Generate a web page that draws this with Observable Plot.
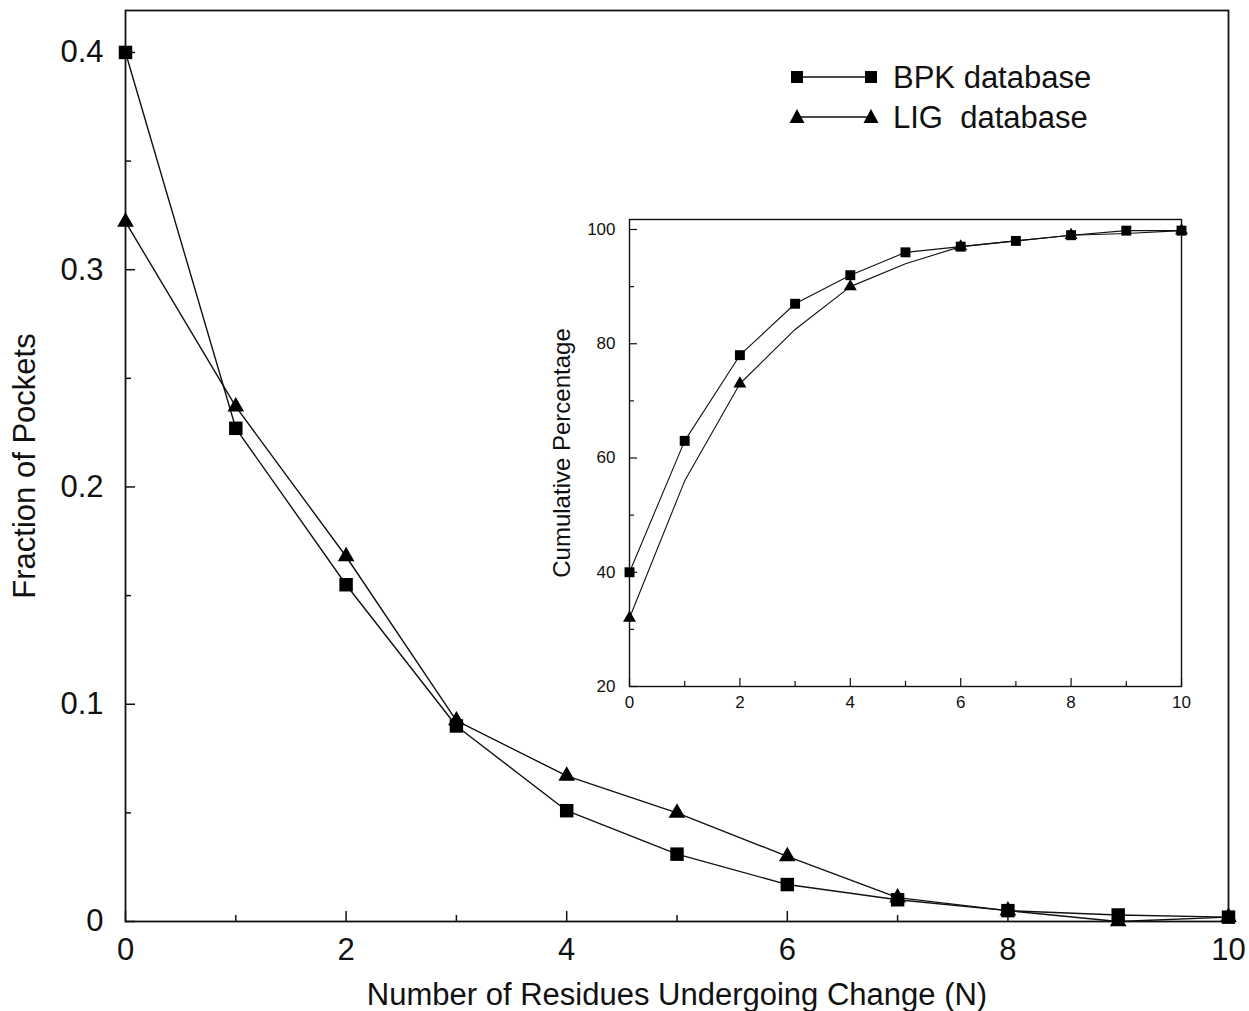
<!DOCTYPE html>
<html>
<head>
<meta charset="utf-8">
<script src="https://cdn.jsdelivr.net/npm/d3@7"></script>
<script src="https://cdn.jsdelivr.net/npm/@observablehq/plot@0.6"></script>
<style>
  html, body { margin: 0; padding: 0; background: #fff; }
  #wrap { position: relative; width: 1249px; height: 1011px; font-family: "Liberation Sans", Arial, sans-serif; }
  #wrap svg { overflow: visible; }
  #inset { position: absolute; left: 529px; top: 189px; }
  #legend { position: absolute; left: 770px; top: 50px; }
</style>
</head>
<body>
<div id="wrap">
  <div id="main"></div>
  <div id="inset"></div>
  <div id="legend"></div>
</div>
<script>
// ---- data ----
const residues = [0, 1, 2, 3, 4, 5, 6, 7, 8, 9, 10];
const bpkFraction = [0.400, 0.227, 0.155, 0.090, 0.051, 0.031, 0.017, 0.010, 0.005, 0.003, 0.002];
const ligFraction = [0.322, 0.237, 0.168, 0.0925, 0.067, 0.050, 0.030, 0.011, 0.005, 0.000, 0.002];
const bpkCumulative = [40, 63, 78, 87, 92, 96, 97, 98, 99, 99.8, 99.8];
const ligCumulative = [32, 56, 73, 82.5, 90, 94, 97, 98, 99, 99.3, 99.8];
const ligInsetMarkerIdx = [0, 2, 4, 6, 8, 10];

const mainXMajor = [0, 2, 4, 6, 8, 10];
const mainXMinor = [1, 3, 5, 7, 9];
const mainYMajor = [0, 0.1, 0.2, 0.3, 0.4];
const mainYMinor = [0.05, 0.15, 0.25, 0.35];
const mainYLabels = ["0", "0.1", "0.2", "0.3", "0.4"];
const insetYMajor = [20, 40, 60, 80, 100];
const insetYMinor = [30, 50, 70, 90];

const seriesNames = ["BPK database", "LIG  database"];
const xTitle = "Number of Residues Undergoing Change (N)";
const yTitle = "Fraction of Pockets";
const insetYTitle = "Cumulative Percentage";

const bpk = residues.map((x, i) => ({x, y: bpkFraction[i]}));
const lig = residues.map((x, i) => ({x, y: ligFraction[i]}));
const bpkC = residues.map((x, i) => ({x, y: bpkCumulative[i]}));
const ligC = residues.map((x, i) => ({x, y: ligCumulative[i]}));
const ligCMarkers = ligInsetMarkerIdx.map(i => ligC[i]);

const FONT = "Liberation Sans, Arial, sans-serif";
const INK = "#111";

// ---- main chart ----
const W = 1249, H = 1011;
const mL = 125, mR = 21, mT = 10, mB = 90;
const pw = W - mL - mR, ph = H - mT - mB;

const main = Plot.plot({
  width: W, height: H,
  marginLeft: mL, marginRight: mR, marginTop: mT, marginBottom: mB,
  style: {fontFamily: FONT, background: "transparent", color: INK, overflow: "visible"},
  x: {domain: [0, 10]},
  y: {domain: [0, 0.4193]},
  marks: [
    Plot.axisX(mainXMajor, {tickSize: 0, tickPadding: 16, fontSize: 31, label: null, tickFormat: d => String(d)}),
    Plot.axisY(mainYMajor, {tickSize: 0, tickPadding: 22, fontSize: 31, label: null, tickFormat: d => mainYLabels[mainYMajor.indexOf(d)]}),
    Plot.ruleX(mainXMajor, {x: d => d, insetTop: ph - 10, stroke: INK, strokeWidth: 1.5}),
    Plot.ruleX(mainXMinor, {x: d => d, insetTop: ph - 6, stroke: INK, strokeWidth: 1.5}),
    Plot.ruleY(mainYMajor, {y: d => d, insetRight: pw - 10, stroke: INK, strokeWidth: 1.5}),
    Plot.ruleY(mainYMinor, {y: d => d, insetRight: pw - 6, stroke: INK, strokeWidth: 1.5}),
    Plot.frame({stroke: INK, strokeWidth: 1.8}),
    Plot.line(bpk, {x: "x", y: "y", stroke: INK, strokeWidth: 1.4}),
    Plot.line(lig, {x: "x", y: "y", stroke: INK, strokeWidth: 1.4}),
    Plot.dot(bpk, {x: "x", y: "y", symbol: "square", r: 7.6, fill: "#000", stroke: "none"}),
    Plot.dot(lig, {x: "x", y: "y", symbol: "triangle", r: 6.2, fill: "#000", stroke: "none"}),
    Plot.text([xTitle], {frameAnchor: "bottom", textAnchor: "middle", dy: 83, fontSize: 31, fill: INK}),
    Plot.text([yTitle], {frameAnchor: "left", textAnchor: "middle", rotate: -90, dx: -100, fontSize: 31, fill: INK})
  ]
});
document.getElementById("main").appendChild(main);

// ---- inset chart ----
const iW = 690, iH = 560;
const iL = 100, iR = 38, iT = 30, iB = 63;
const ipw = iW - iL - iR, iph = iH - iT - iB;
const inset = Plot.plot({
  width: iW, height: iH,
  marginLeft: iL, marginRight: iR, marginTop: iT, marginBottom: iB,
  style: {fontFamily: FONT, background: "transparent", color: INK, overflow: "visible"},
  x: {domain: [0, 10]},
  y: {domain: [20, 101.75]},
  marks: [
    Plot.axisX(mainXMajor, {tickSize: 0, tickPadding: 9, fontSize: 17, label: null, tickFormat: d => String(d)}),
    Plot.axisY(insetYMajor, {tickSize: 0, tickPadding: 14, fontSize: 17, label: null, tickFormat: d => String(d)}),
    Plot.ruleX(mainXMajor, {x: d => d, insetTop: iph - 8, stroke: INK, strokeWidth: 1.2}),
    Plot.ruleX(mainXMinor, {x: d => d, insetTop: iph - 5, stroke: INK, strokeWidth: 1.2}),
    Plot.ruleY(insetYMajor, {y: d => d, insetRight: ipw - 8, stroke: INK, strokeWidth: 1.2}),
    Plot.ruleY(insetYMinor, {y: d => d, insetRight: ipw - 5, stroke: INK, strokeWidth: 1.2}),
    Plot.frame({stroke: INK, strokeWidth: 1.4}),
    Plot.line(bpkC, {x: "x", y: "y", stroke: INK, strokeWidth: 1.1}),
    Plot.line(ligC, {x: "x", y: "y", stroke: INK, strokeWidth: 1.1}),
    Plot.dot(bpkC, {x: "x", y: "y", symbol: "square", r: 5.6, fill: "#000", stroke: "none"}),
    Plot.dot(ligCMarkers, {x: "x", y: "y", symbol: "triangle", r: 4.8, fill: "#000", stroke: "none"}),
    Plot.text([insetYTitle], {frameAnchor: "left", textAnchor: "middle", rotate: -90, dx: -67, fontSize: 24, fill: INK})
  ]
});
document.getElementById("inset").appendChild(inset);

// ---- legend ----
const ns = "http://www.w3.org/2000/svg";
const lg = document.createElementNS(ns, "svg");
lg.setAttribute("width", 360);
lg.setAttribute("height", 100);
const rows = [{y: 27, sym: "square"}, {y: 67, sym: "triangle"}];
const x1 = 27, x2 = 101, tx = 123;
rows.forEach((r, i) => {
  const ln = document.createElementNS(ns, "line");
  ln.setAttribute("x1", x1); ln.setAttribute("x2", x2);
  ln.setAttribute("y1", r.y); ln.setAttribute("y2", r.y);
  ln.setAttribute("stroke", INK); ln.setAttribute("stroke-width", 1.5);
  lg.appendChild(ln);
  [x1, x2].forEach(cx => {
    const p = document.createElementNS(ns, "path");
    if (r.sym === "square") {
      p.setAttribute("d", `M${cx - 6},${r.y - 6}h12v12h-12z`);
    } else {
      p.setAttribute("d", `M${cx},${r.y - 8}L${cx + 7.5},${r.y + 6}L${cx - 7.5},${r.y + 6}z`);
    }
    p.setAttribute("fill", "#000");
    lg.appendChild(p);
  });
  const t = document.createElementNS(ns, "text");
  t.setAttribute("x", tx); t.setAttribute("y", r.y);
  t.setAttribute("dy", "0.35em");
  t.setAttribute("font-size", 31);
  t.setAttribute("font-family", FONT);
  t.setAttribute("fill", INK);
  t.setAttribute("xml:space", "preserve");
  t.style.whiteSpace = "pre";
  t.textContent = seriesNames[i];
  lg.appendChild(t);
});
document.getElementById("legend").appendChild(lg);
</script>
</body>
</html>
